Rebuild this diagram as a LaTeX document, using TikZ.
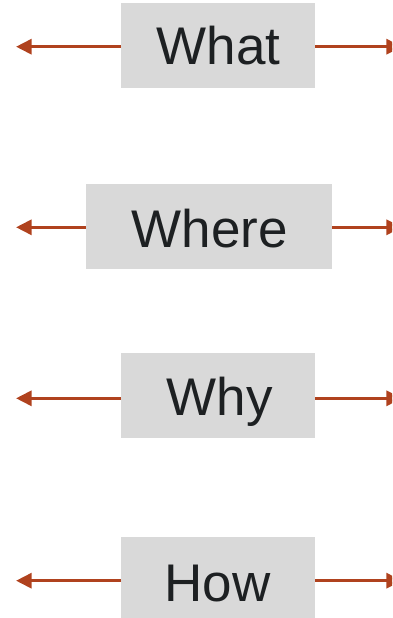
\documentclass[tikz,border=0pt]{standalone}
\usepackage{fontspec}
\setmainfont{Liberation Sans}
\usetikzlibrary{arrows.meta}
\definecolor{rust}{RGB}{176,66,30}
\definecolor{boxgray}{RGB}{217,217,217}
\definecolor{ink}{RGB}{29,32,34}
\tikzset{
  wbox/.style={fill=boxgray, draw=none, inner sep=0pt, anchor=north west},
  word/.style={text=ink, font=\fontsize{53}{60}\selectfont, inner sep=0pt, anchor=base},
  arr/.style={draw=rust, line width=3.3pt, -{Triangle[length=15.7pt,width=15pt]}}
}
\begin{document}
\begin{tikzpicture}[x=1pt,y=-1pt]
  \useasboundingbox (0,0) rectangle (392,618);
  \clip (0,0) rectangle (392,618);
  % boxes
  \node[wbox, minimum width=194pt, minimum height=85pt] (what) at (121,3) {};
  \node[wbox, minimum width=246pt, minimum height=85pt] (where) at (86,184) {};
  \node[wbox, minimum width=194pt, minimum height=85pt] (why) at (121,353) {};
  \node[wbox, minimum width=194pt, minimum height=85pt] (how) at (121,537) {};
  % labels
  \node[word] (whatT) at (218.5,64.5) {What};
  \node[word] (whereT) at (210,247.5) {Where};
  \node[word] (whyT) at (219.5,415) {Why};
  \node[word] (howT) at (217.5,601) {How};
  % arrow ends
  \coordinate (whatL) at (16,46.7);   \coordinate (whatR) at (402,46.7);
  \coordinate (whereL) at (16,227.3); \coordinate (whereR) at (402,227.3);
  \coordinate (whyL) at (16,398.3);   \coordinate (whyR) at (402,398.3);
  \coordinate (howL) at (16,580.7);   \coordinate (howR) at (402,580.7);
  % arrows
  \foreach \n in {what,where,why,how}{
    \draw[arr] (\n.west |- \n L) -- (\n L);
    \draw[arr] (\n.east |- \n R) -- (\n R);
  }
\end{tikzpicture}
\end{document}
